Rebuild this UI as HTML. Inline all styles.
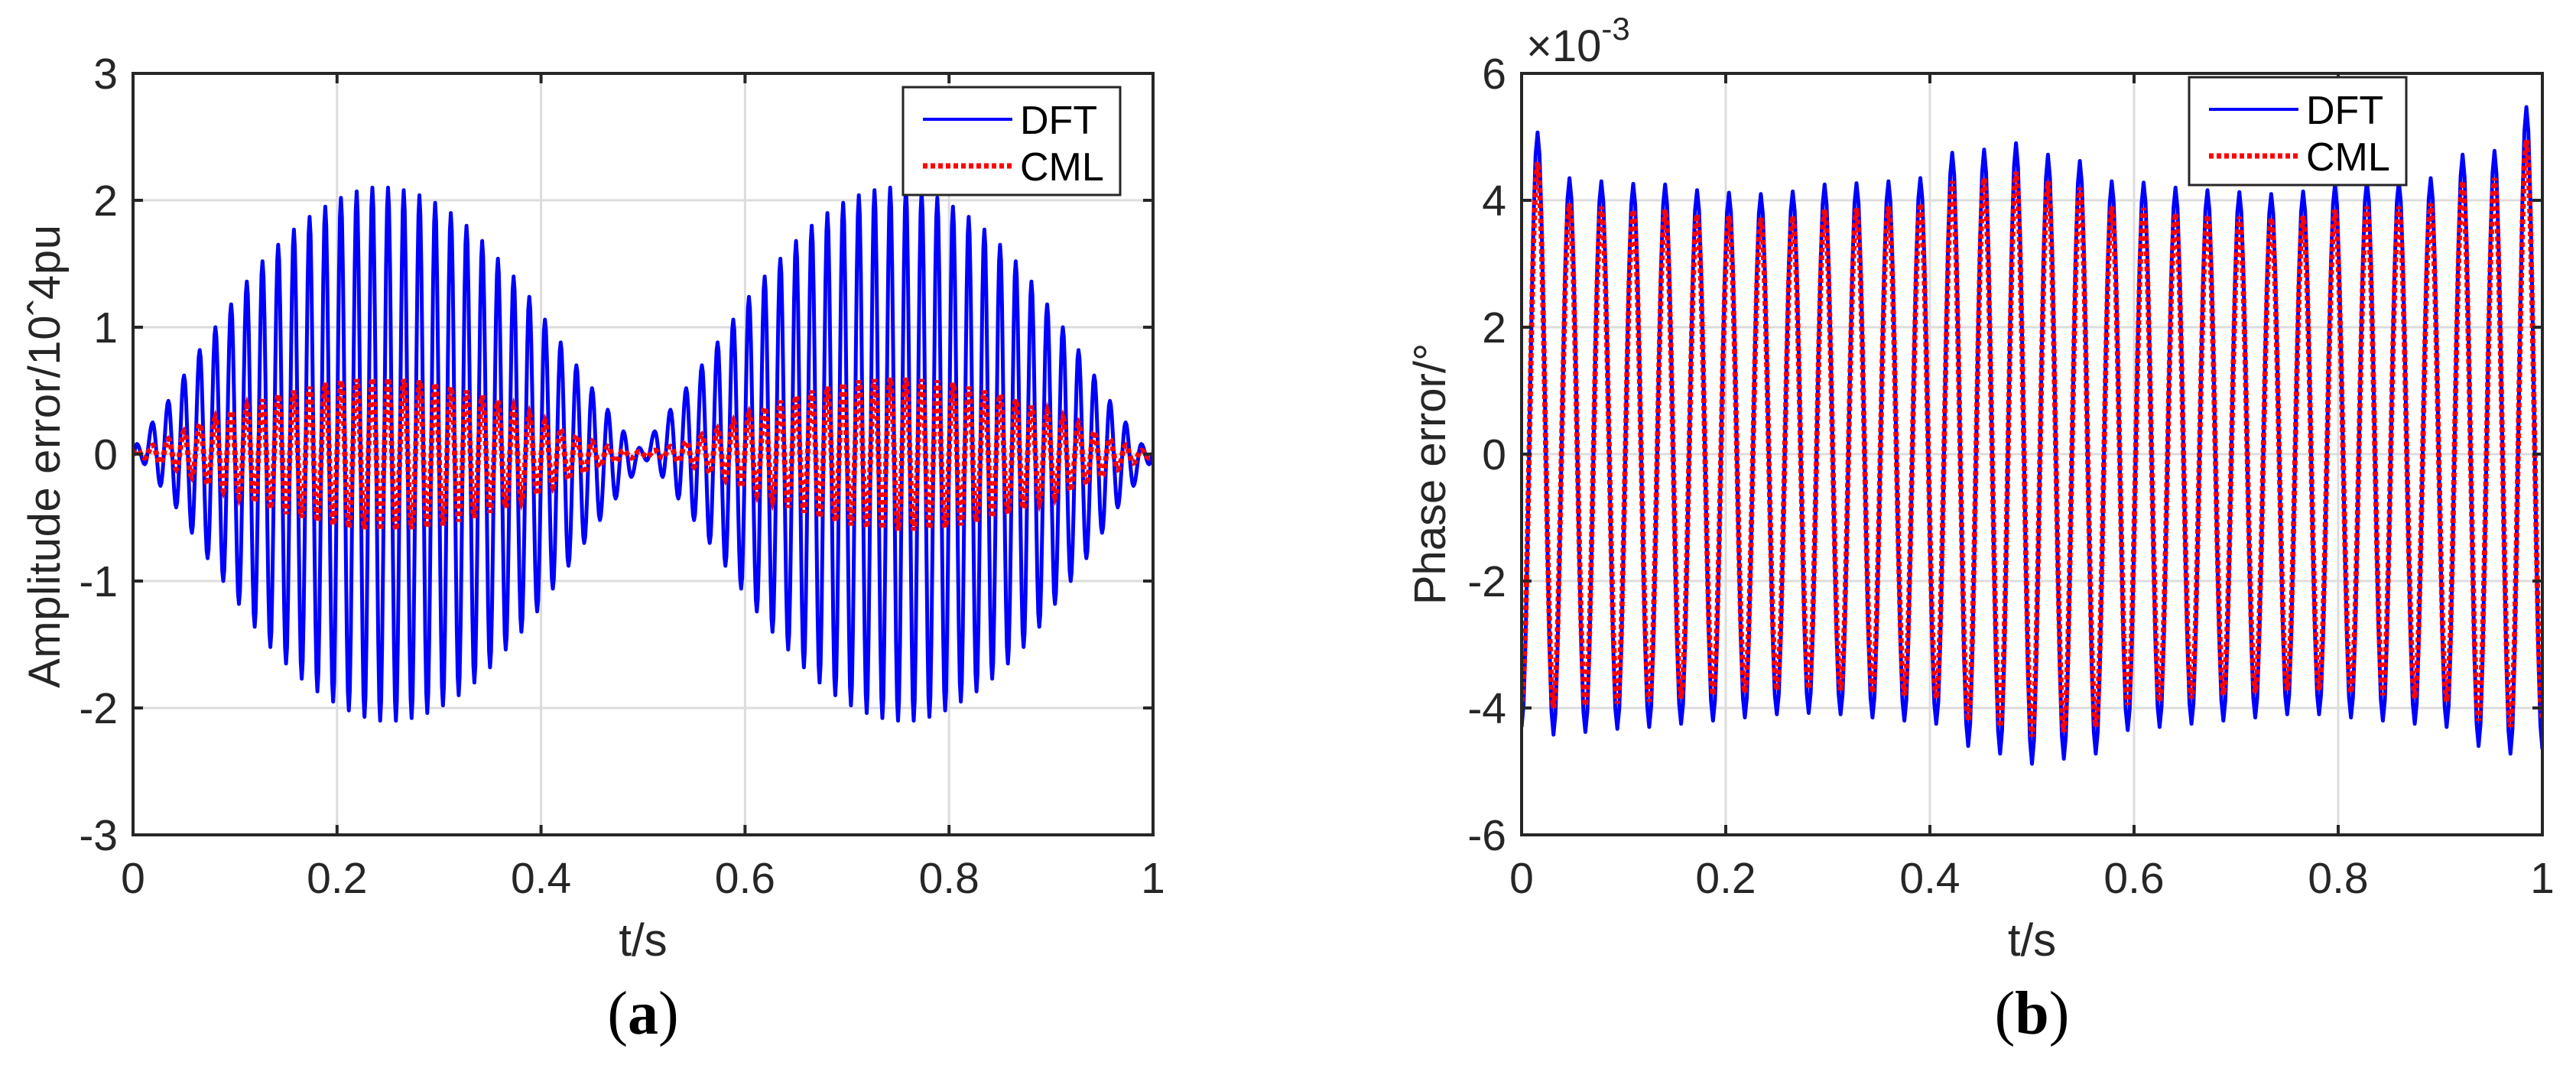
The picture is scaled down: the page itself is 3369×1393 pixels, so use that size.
<!DOCTYPE html>
<html><head><meta charset="utf-8">
<style>
html,body{margin:0;padding:0;background:#fff;}
svg{display:block;}
text{font-family:"Liberation Sans",Arial,sans-serif;fill:#262626;}
</style></head>
<body>
<svg id="fig" width="3369" height="1393" viewBox="0 0 3369 1393" xmlns="http://www.w3.org/2000/svg"></svg>
<script>
// ---------- DATA ----------
const aXTicks = [0, 0.2, 0.4, 0.6, 0.8, 1];
const aXTickLabels = ["0", "0.2", "0.4", "0.6", "0.8", "1"];
const aYTicks = [-3, -2, -1, 0, 1, 2, 3];
const aYTickLabels = ["-3", "-2", "-1", "0", "1", "2", "3"];
// per-cycle amplitude of panel (a) oscillation (65 cycles over 0..1 s)
const aDftAmp = [0.08,0.25,0.42,0.62,0.82,1.0,1.18,1.36,1.52,1.65,1.77,1.87,1.95,2.02,2.07,2.1,2.1,2.08,2.04,1.98,1.9,1.8,1.68,1.54,1.4,1.24,1.06,0.88,0.7,0.52,0.35,0.18,0.05,
 0.18,0.35,0.52,0.7,0.88,1.06,1.24,1.4,1.54,1.68,1.8,1.9,1.98,2.04,2.08,2.1,2.1,2.07,2.02,1.95,1.87,1.77,1.65,1.52,1.36,1.18,1.0,0.82,0.62,0.42,0.25,0.08];
const aCmlAmp = [0.03,0.07,0.12,0.18,0.24,0.29,0.34,0.38,0.43,0.47,0.5,0.53,0.56,0.58,0.59,0.6,0.6,0.59,0.58,0.56,0.53,0.5,0.46,0.42,0.37,0.32,0.26,0.2,0.15,0.1,0.06,0.03,0.02,
 0.03,0.06,0.1,0.15,0.2,0.26,0.32,0.37,0.42,0.46,0.5,0.53,0.56,0.58,0.59,0.6,0.6,0.59,0.58,0.56,0.53,0.5,0.47,0.43,0.38,0.34,0.29,0.24,0.18,0.12,0.07,0.03];

const bXTicks = [0, 0.2, 0.4, 0.6, 0.8, 1];
const bXTickLabels = ["0", "0.2", "0.4", "0.6", "0.8", "1"];
const bYTicks = [-6, -4, -2, 0, 2, 4, 6];
const bYTickLabels = ["-6", "-4", "-2", "0", "2", "4", "6"];
// panel (b): maxima (32) and minima (33) in units of 1e-3 deg
const bDftMax = [5.07,4.35,4.3,4.26,4.25,4.16,4.12,4.1,4.14,4.25,4.27,4.3,4.35,4.75,4.8,4.9,4.72,4.62,4.3,4.28,4.2,4.16,4.13,4.1,4.14,4.25,4.3,4.3,4.35,4.72,4.78,5.47];
const bDftMin = [-4.3,-4.42,-4.38,-4.33,-4.3,-4.25,-4.2,-4.15,-4.1,-4.08,-4.1,-4.15,-4.2,-4.25,-4.6,-4.72,-4.88,-4.8,-4.72,-4.35,-4.3,-4.25,-4.2,-4.15,-4.1,-4.1,-4.15,-4.2,-4.25,-4.3,-4.6,-4.72,-4.65];
const bCmlMax = [4.6,3.95,3.9,3.85,3.85,3.78,3.75,3.72,3.75,3.85,3.87,3.9,3.95,4.3,4.35,4.45,4.3,4.2,3.9,3.88,3.8,3.77,3.74,3.72,3.75,3.85,3.9,3.9,3.95,4.3,4.35,4.95];
const bCmlMin = [-3.9,-4.0,-3.97,-3.93,-3.9,-3.85,-3.8,-3.76,-3.72,-3.7,-3.72,-3.76,-3.8,-3.85,-4.2,-4.3,-4.45,-4.38,-4.3,-3.95,-3.9,-3.85,-3.8,-3.76,-3.72,-3.72,-3.76,-3.8,-3.85,-3.9,-4.2,-4.3,-4.2];

// ---------- DRAWING ----------
const NS = "http://www.w3.org/2000/svg";
const svg = document.getElementById('fig');
function mk(tag, attrs, parent){
  const e = document.createElementNS(NS, tag);
  for (const k in attrs) e.setAttribute(k, attrs[k]);
  (parent||svg).appendChild(e);
  return e;
}
function extremaPath(ext, sx, sy){
  // ext: list of [t, v]; half-cosine interpolation between extremes
  let d = "";
  for (let i=0;i<ext.length-1;i++){
    const [t0,v0]=ext[i],[t1,v1]=ext[i+1];
    const n=8;
    for (let j=(i===0?0:1);j<=n;j++){
      const u=j/n, t=t0+(t1-t0)*u, v=v0+(v1-v0)*(1-Math.cos(Math.PI*u))/2;
      d += (d===""?"M":"L")+sx(t).toFixed(1)+","+sy(v).toFixed(1);
    }
  }
  return d;
}
function extA(amp){
  const N=amp.length, e=[[0,0]];
  for(let k=0;k<N;k++){ e.push([(k+0.25)/N, amp[k]]); e.push([(k+0.75)/N, -amp[k]]); }
  e.push([1,0]); return e;
}
function extB(mx, mn){
  const N=mx.length, e=[];
  for(let k=0;k<N;k++){ e.push([k/N, mn[k]]); e.push([(k+0.5)/N, mx[k]]); }
  e.push([1, mn[N]]); return e;
}

function panel(o){
  const g = mk('g', {});
  
  
  const L=o.L,R=o.R,T=o.T,B=o.B;
  const sx = t => L + (t - o.xmin)/(o.xmax-o.xmin)*(R-L);
  const sy = v => B - (v - o.ymin)/(o.ymax-o.ymin)*(B-T);
  // grid
  const grid = mk('g', {stroke:'#dcdcdc','stroke-width':3}, g);
  
  
  o.xt.forEach(t=>mk('line',{x1:sx(t),x2:sx(t),y1:T,y2:B},grid));
  o.yt.forEach(v=>mk('line',{x1:L,x2:R,y1:sy(v),y2:sy(v)},grid));
  // series
  const clip = mk('clipPath',{id:o.name+'-clip'},g);
  mk('rect',{x:L,y:T,width:R-L,height:B-T},clip);
  const s1 = mk('path',{d:extremaPath(o.dft,sx,sy),fill:'none',stroke:'#0000ff','stroke-width':5,'stroke-linejoin':'round','clip-path':'url(#'+o.name+'-clip)'},g);
  
  
  const s2 = mk('path',{d:extremaPath(o.cml,sx,sy),fill:'none',stroke:'#ff0000','stroke-width':7,'stroke-dasharray':'6 4','clip-path':'url(#'+o.name+'-clip)'},g);
  
  
  // axes box & ticks
  const ax = mk('g',{stroke:'#262626','stroke-width':4,fill:'none'},g);
  
  
  mk('rect',{x:L,y:T,width:R-L,height:B-T},ax);
  o.xt.forEach(t=>{mk('line',{x1:sx(t),x2:sx(t),y1:B,y2:B-13},ax);mk('line',{x1:sx(t),x2:sx(t),y1:T,y2:T+13},ax);});
  o.yt.forEach(v=>{mk('line',{x1:L,x2:L+13,y1:sy(v),y2:sy(v)},ax);mk('line',{x1:R,x2:R-13,y1:sy(v),y2:sy(v)},ax);});
  // tick labels
  o.xt.forEach((t,i)=>{
    const e=mk('text',{x:sx(t),y:B+76,'text-anchor':'middle','font-size':57},g);
    e.textContent=o.xl[i];
    
    
  });
  o.yt.forEach((v,i)=>{
    const e=mk('text',{x:L-20,y:sy(v)+20,'text-anchor':'end','font-size':57},g);
    e.textContent=o.yl[i];
    
    
  });
  // axis titles
  const xtitle=mk('text',{x:(L+R)/2,y:B+158,'text-anchor':'middle','font-size':60},g);
  xtitle.textContent='t/s';
  
  
  const ytitle=mk('text',{x:0,y:0,'text-anchor':'middle','font-size':58,transform:'translate('+o.ytx+','+o.yty+') rotate(-90)'},g);
  ytitle.textContent=o.ytitle;
  if(o.ylen) ytitle.setAttribute('textLength',o.ylen);
  
  
  // caption
  const cap=mk('text',{x:(L+R)/2,y:1352,'text-anchor':'middle','font-size':80,style:'font-family:"Liberation Serif",serif;fill:#000'},g);
  cap.innerHTML='(<tspan font-weight="bold">'+o.cap+'</tspan>)';
  
  
  // legend
  const lg=mk('g',{},g);
  
  
  const lx=o.lg[0], ly=o.lg[1], lw=284, lh=141;
  mk('rect',{x:lx,y:ly,width:lw,height:lh,fill:'#fff',stroke:'#262626','stroke-width':3},lg);
  const e1=mk('g',{},lg);
  
  
  mk('line',{x1:lx+26,x2:lx+143,y1:ly+42,y2:ly+42,stroke:'#0000ff','stroke-width':4},e1);
  const t1=mk('text',{x:lx+153,y:ly+61,'font-size':52,style:'fill:#000'},e1); t1.textContent='DFT';
  const e2=mk('g',{},lg);
  
  
  mk('line',{x1:lx+26,x2:lx+143,y1:ly+103,y2:ly+103,stroke:'#ff0000','stroke-width':7,'stroke-dasharray':'6 4'},e2);
  const t2=mk('text',{x:lx+153,y:ly+122,'font-size':52,style:'fill:#000'},e2); t2.textContent='CML';
  return g;
}

panel({name:'panel-a-amplitude-error',L:174,R:1508,T:96,B:1092,xmin:0,xmax:1,ymin:-3,ymax:3,
  xt:aXTicks,xl:aXTickLabels,yt:aYTicks,yl:aYTickLabels,
  dft:extA(aDftAmp),cml:extA(aCmlAmp),
  ytitle:'Amplitude error/10ˆ4pu',ytx:78,yty:597,ylen:606,cap:'a',lg:[1181,114]});
panel({name:'panel-b-phase-error',L:1990,R:3325,T:96,B:1092,xmin:0,xmax:1,ymin:-6,ymax:6,
  xt:bXTicks,xl:bXTickLabels,yt:bYTicks,yl:bYTickLabels,
  dft:extB(bDftMax,bDftMin),cml:extB(bCmlMax,bCmlMin),
  ytitle:'Phase error/°',ytx:1890,yty:620,ylen:0,cap:'b',lg:[2863,101]});

// exponent label
const ex=mk('text',{x:1996,y:80,'font-size':58});
ex.innerHTML='×10<tspan dy="-28" font-size="42">-3</tspan>';


</script>
</body></html>
